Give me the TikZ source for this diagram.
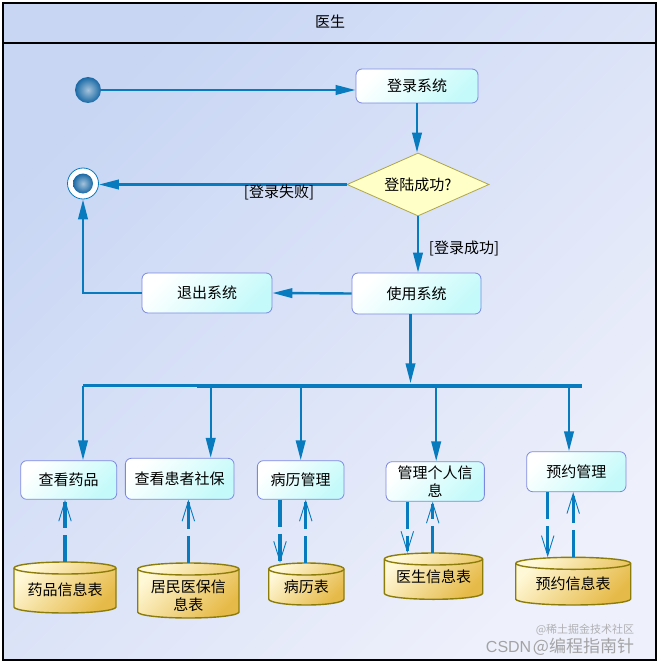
\documentclass[tikz,border=0pt]{standalone}
\usepackage{fontspec}
\newfontfamily\cjk{Noto Sans CJK SC}
\newfontfamily\wmfont{Liberation Sans}
\usetikzlibrary{arrows.meta,shapes.geometric}
\definecolor{flow}{RGB}{8,122,190}
\definecolor{bgA}{RGB}{200,214,244}
\definecolor{bgB}{RGB}{238,240,251}
\definecolor{boxB}{RGB}{125,135,225}
\definecolor{boxC}{RGB}{196,250,250}
\definecolor{decF}{RGB}{255,255,200}
\definecolor{decB}{RGB}{175,165,70}
\definecolor{cylA}{RGB}{255,248,215}
\definecolor{cylB}{RGB}{230,186,72}
\definecolor{cylD}{RGB}{140,125,10}
\definecolor{ballI}{RGB}{165,195,220}
\definecolor{ballO}{RGB}{25,105,165}
\definecolor{wmgray}{RGB}{150,150,150}
\tikzset{
  every node/.style={inner sep=0pt},
  txt/.style={font=\cjk\fontsize{15}{17.5}\selectfont, text=black},
  actbox/.style={txt, rectangle, rounded corners=6pt, draw=boxB, line width=0.8pt,
    top color=white, bottom color=boxC, shading angle=45, align=center},
  decision/.style={txt, diamond, aspect=2.25, draw=decB, line width=0.8pt, fill=decF},
  flowarrow/.style={draw=flow, line width=2.4pt, -{Triangle[length=20pt,width=9.5pt]}},
  objflow/.style={draw=flow, line width=3.2pt, dash pattern=on 27pt off 7pt,
    -{Straight Barb[length=20pt,width=12.5pt,line width=0.9pt]}},
  cylbody/.style={top color=cylA, bottom color=cylB, shading angle=45},
  cylline/.style={draw=cylD, line width=1.4pt},
  ballstyle/.style={circle, inner color=ballI, outer color=ballO},
}
% name, x1, x2, ytop, ybot (image px), text y (image px), text
\newcommand\dbcyl[7]{%
  \pgfmathsetmacro\cxa{#2}\pgfmathsetmacro\cxb{#3}%
  \pgfmathsetmacro\crx{(#3-#2)/2}%
  \pgfmathsetmacro\cyt{-(#4)-6}%
  \pgfmathsetmacro\cyb{-(#5)+6}%
  \pgfmathsetmacro\cw{#3-#2}\pgfmathsetmacro\ch{#5-#4}%
  \pgfmathsetmacro\ccx{(#2+#3)/2}\pgfmathsetmacro\ccy{-(#4+#5)/2}%
  \shade[cylbody] (\cxa,\cyt) -- (\cxa,\cyb) arc[start angle=180,end angle=360,x radius=\crx pt,y radius=6pt]
     -- (\cxb,\cyt) arc[start angle=0,end angle=180,x radius=\crx pt,y radius=6pt] -- cycle;
  \draw[cylline] (\cxa,\cyt) -- (\cxa,\cyb) arc[start angle=180,end angle=360,x radius=\crx pt,y radius=6pt]
     -- (\cxb,\cyt) arc[start angle=0,end angle=180,x radius=\crx pt,y radius=6pt] -- cycle;
  \draw[cylline] (\cxa,\cyt) arc[start angle=180,end angle=360,x radius=\crx pt,y radius=6pt];
  \node[minimum width=\cw pt, minimum height=\ch pt] (#1) at (\ccx,\ccy) {};
  \node[txt, align=center] (#1-t) at (\ccx,-#6) {#7};
}
\begin{document}
\begin{tikzpicture}[x=1pt,y=1pt]
\useasboundingbox (0,0) rectangle (662,-666);
% background and frame
\shade[top color=bgA, bottom color=bgB, shading angle=45] (3,-3) rectangle (656,-660);
\draw[line width=2pt] (3,-3) rectangle (656,-660);
\draw[line width=2pt] (3,-43) -- (656,-43);
\node[txt] (title) at (330,-22) {医生};

% initial / final
\node[ballstyle, minimum size=26pt] (start) at (88,-90) {};
\node[circle, minimum size=31pt, fill=white, draw=flow, line width=0.8pt] (end) at (83,-183.5) {};
\node[ballstyle, minimum size=20pt] (endball) at (end) {};

% activities
\node[actbox, minimum width=122pt, minimum height=34pt] (login) at (417,-86) {登录系统};
\node[decision, minimum width=142pt, minimum height=63pt] (dec) at (418,-184.5) {登陆成功?};
\node[actbox, minimum width=129pt, minimum height=41pt] (use) at (416.5,-293.5) {使用系统};
\node[actbox, minimum width=130pt, minimum height=40pt] (quit) at (207,-293) {退出系统};

% fork bar
\node[fill=flow, minimum width=385pt, minimum height=4pt] (bar) at (389.5,-385.5) {};
\coordinate (barleft) at (83,-385.5);

% lower activities
\node[actbox, minimum width=96pt, minimum height=38.6pt] (see1) at (68.7,-480) {查看药品};
\node[actbox, minimum width=108.7pt, minimum height=41pt] (see2) at (179.7,-478.8) {查看患者社保};
\node[actbox, minimum width=86.7pt, minimum height=38.6pt] (rec) at (300.7,-480) {病历管理};
\node[actbox, minimum width=98.3pt, minimum height=39.6pt] (self) at (435.2,-481.5) {管理个人信\\息};
\node[actbox, minimum width=99.3pt, minimum height=40pt] (appt) at (576.3,-471.7) {预约管理};

% data stores
\dbcyl{db1}{14}{116}{562}{613}{590}{药品信息表}
\dbcyl{db2}{137.7}{239}{563}{618}{596}{居民医保信\\息表}
\dbcyl{db3}{268.7}{344}{563}{605}{586.7}{病历表}
\dbcyl{db4}{384.3}{482.7}{553}{599.3}{576.7}{医生信息表}
\dbcyl{db5}{515.7}{630.7}{557.3}{605}{584}{预约信息表}

% control flow
\draw[flowarrow] (start) -- (start -| login.west);
\draw[flowarrow] (login.south) -- (login.south |- dec.north);
\draw[flowarrow] (dec.west) -- (dec.west -| end.east);
\node[txt] (fail) at (279,-192) {[登录失败]};
\draw[flowarrow] (dec.south) -- (dec.south |- use.north);
\node[txt] (ok) at (464,-248) {[登录成功]};
\draw[flowarrow] (use.west) -- (quit.east);
\draw[flowarrow] (quit.west) -| (end.south);
\draw[flowarrow] ([xshift=-6pt]use.south) -- ([xshift=-6pt]use.south |- bar.north);

% branches
\draw[draw=flow, line width=2.4pt] (bar.west) -- (barleft);
\draw[flowarrow] (barleft) -- (barleft |- see1.north);
\draw[flowarrow] ([xshift=31pt]see2.north |- bar.center) -- ([xshift=31pt]see2.north);
\draw[flowarrow] (rec.north |- bar.center) -- (rec.north);
\draw[flowarrow] ([xshift=1pt]self.north |- bar.center) -- ([xshift=1pt]self.north);
\draw[flowarrow] ([xshift=-7.3pt]appt.north |- bar.center) -- ([xshift=-7.3pt]appt.north);

% object flows
\draw[objflow] (db1.north) -- (db1.north |- see1.south);
\draw[objflow] (db2.north) -- (db2.north |- see2.south);
\draw[objflow] ([xshift=-20.7pt]rec.south) -- ([xshift=-20.7pt]rec.south |- db3.north);
\draw[objflow] ([xshift=-0.6pt]db3.north) -- ([xshift=-0.6pt]db3.north |- rec.south);
\draw[objflow] ([xshift=-27.9pt]self.south) -- ([xshift=-27.9pt]self.south |- db4.north);
\draw[objflow] ([xshift=-0.8pt]db4.north) -- ([xshift=-0.8pt]db4.north |- self.south);
\draw[objflow] ([xshift=-28.6pt]appt.south) -- ([xshift=-28.6pt]appt.south |- db5.north);
\draw[objflow] (db5.north) -- (db5.north |- appt.south);

% watermark
\node[text=wmgray, opacity=0.7, font=\cjk\fontsize{11}{12}\selectfont] (wm2) at (585,-630) {@稀土掘金技术社区};
\node[text=wmgray, opacity=0.85] (wm) at (560,-647) {{\wmfont\fontsize{16}{16}\selectfont CSDN}\,{\cjk\fontsize{17}{17}\selectfont @编程指南针}};
\end{tikzpicture}
\end{document}
